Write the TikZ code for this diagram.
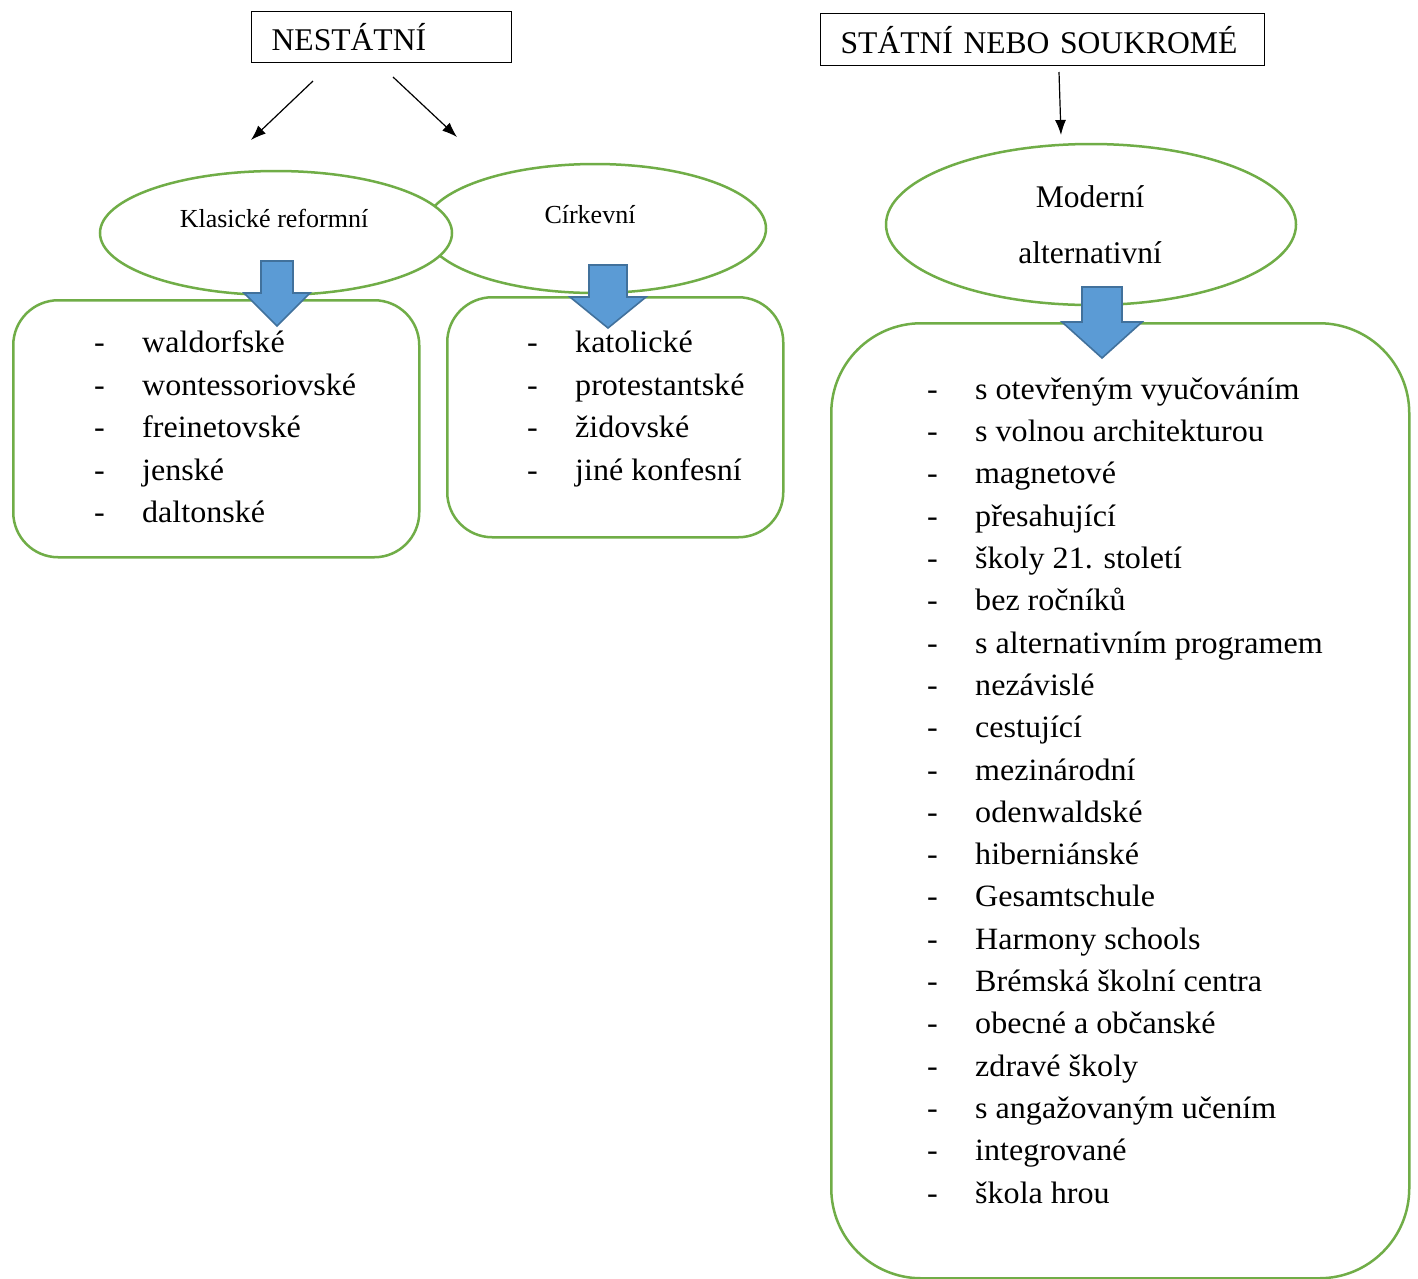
\documentclass[tikz,border=0pt]{standalone}
\usepackage{fontspec}
\setmainfont{Liberation Serif}
\newfontfamily\listfont[FakeStretch=1.035]{Liberation Serif}
\usetikzlibrary{shapes.geometric,arrows.meta}
\definecolor{grn}{HTML}{70AD47}
\definecolor{blu}{HTML}{5B9BD5}
\definecolor{bluedge}{HTML}{41719C}
\newcommand\blkarrow[6]{%
  \draw[blockarr] ({#1-#3},#2) -- ({#1+#3},#2) -- ({#1+#3},#4) -- ({#1+#5},#4)
    -- (#1,#6) -- ({#1-#5},#4) -- ({#1-#3},#4) -- cycle;}
\begin{document}
\begin{tikzpicture}[x=1pt,y=-1pt,
  greenbox/.style={draw=grn, line width=2.5pt, fill=white, rectangle, inner sep=0pt},
  ellbox/.style={draw=grn, line width=2.5pt, fill=white, ellipse, inner sep=0pt},
  hdrbox/.style={draw=black, line width=1.3pt, rectangle, inner ysep=0pt, inner xsep=20pt, align=left, font=\fontsize{31.6}{38}\selectfont, text depth=0pt},
  blockarr/.style={fill=blu, draw=bluedge, line width=1.6pt, line join=miter},
  thinarr/.style={-{Latex[length=15pt,width=11pt]}, line width=1.2pt},
  etext/.style={anchor=base, inner sep=0pt},
  item/.style={anchor=base west, inner sep=0pt, font=\listfont\fontsize{31}{37}\selectfont},
]
\useasboundingbox[fill=white] (0,0) rectangle (1418,1278);

% rounded boxes
\node[greenbox, rounded corners=45pt, anchor=north west, minimum width=406pt, minimum height=257pt] (box1) at (12,299) {};
\node[greenbox, rounded corners=45pt, anchor=north west, minimum width=336pt, minimum height=240pt] (box2) at (446,296) {};
\node[greenbox, rounded corners=90pt, anchor=north west, minimum width=578pt, minimum height=955pt] (box3) at (830,322) {};

% ellipses
\node[ellbox, minimum width=342pt, minimum height=129pt] (e2) at (595,228.5) {};
\node[ellbox, minimum width=352pt, minimum height=124pt] (e1) at (276,233) {};
\node[ellbox, minimum width=410pt, minimum height=161pt] (e3) at (1091,224.5) {};

\node[etext, font=\fontsize{26}{31}\selectfont] (t1) at (274,227) {Klasické reformní};
\node[etext, font=\fontsize{26}{31}\selectfont] (t2) at (590,223) {Církevní};
\node[etext, font=\fontsize{31.5}{37}\selectfont] (t3a) at (1090,207) {Moderní};
\node[etext, font=\fontsize{31.5}{37}\selectfont] (t3b) at (1090,263) {alternativní};

% block arrows
\blkarrow{277}{261}{16}{293}{33}{326}
\blkarrow{608}{265}{19}{297}{38}{328}
\blkarrow{1102}{287}{20}{322}{40}{358}

% headers
\node[hdrbox, anchor=north west, minimum height=51pt, text width=220pt, text height=27pt] (nest) at (251,11) {NESTÁTNÍ};
\node[hdrbox, anchor=north west, minimum height=52pt, text width=404pt, text height=28pt] (stat) at (820,13) {STÁTNÍ NEBO SOUKROMÉ};

% thin arrows
\coordinate (a1s) at (313,81);  \coordinate (a1e) at (251,140);
\coordinate (a2s) at (393,77);  \coordinate (a2e) at (457,137);
\coordinate (a3s) at (1059,72); \coordinate (a3e) at (1061,135);
\draw[thinarr] (a1s) -- (a1e);
\draw[thinarr] (a2s) -- (a2e);
\draw[thinarr] (a3s) -- (a3e);

% lists
\foreach \t [count=\i] in {waldorfské, wontessoriovské, freinetovské, jenské, daltonské}{
  \node[item] (la\i) at (94,{352.7+42.5*(\i-1)}) {-};
  \node[item] (lta\i) at (142,{352.7+42.5*(\i-1)}) {\t};
}
\foreach \t [count=\i] in {katolické, protestantské, židovské, jiné konfesní}{
  \node[item] (lb\i) at (527,{352.7+42.5*(\i-1)}) {-};
  \node[item] (ltb\i) at (575,{352.7+42.5*(\i-1)}) {\t};
}
\foreach \t [count=\i] in {s otevřeným vyučováním, s volnou architekturou, magnetové, přesahující, školy 21. století, bez ročníků, s alternativním programem, nezávislé, cestující, mezinárodní, odenwaldské, hiberniánské, Gesamtschule, Harmony schools, Brémská školní centra, obecné a občanské, zdravé školy, s angažovaným učením, integrované, škola hrou}{
  \node[item] (lc\i) at (927,{399.3+42.3*(\i-1)}) {-};
  \node[item] (ltc\i) at (975,{399.3+42.3*(\i-1)}) {\t};
}
\end{tikzpicture}
\end{document}
